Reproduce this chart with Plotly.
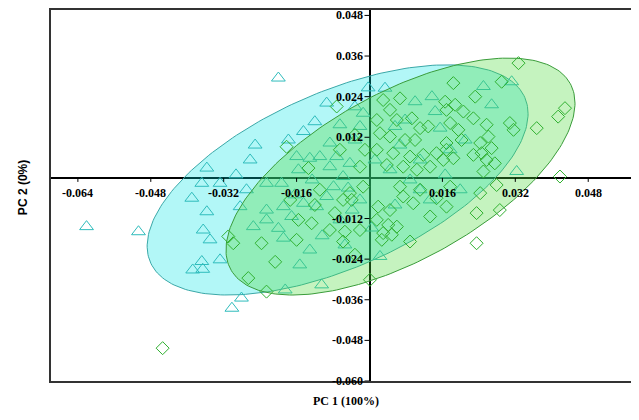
import numpy as np
import plotly.graph_objects as go

# ---- data (PC scores) ----
tri_x = [-0.0621, -0.0507, -0.0200, -0.0390, -0.0357, -0.0365, -0.0350, -0.0368, -0.0388, -0.0366,
         -0.0328, -0.0302, -0.0281, -0.0368, -0.0357, -0.0328, -0.0094, -0.0251, -0.0185, -0.0105,
         -0.0145, -0.0120, -0.0178, -0.0160, -0.0131, -0.0109, -0.0226, -0.0270, -0.0193, -0.0156,
         -0.0226, -0.0255, -0.0284, -0.0189, -0.0200, -0.0189, -0.0226, -0.0171, -0.0145, -0.0116,
         -0.0087, -0.0072, -0.0058, -0.0079, -0.0094, -0.0043, -0.0021, -0.0014, -0.0087, 0.0250,
         0.0312, 0.0268, 0.0137, 0.0100, 0.0144, 0.0034, 0.0056, 0.0155, 0.0323, 0.0023,
         0.0111, 0.0089, 0.0177, -0.0038, -0.0065, -0.0021, 0.0012, 0.0045, 0.0067, 0.0111,
         0.0166, 0.0199, 0.0133, 0.0056, 0.0005, -0.0054, -0.0131, -0.0153, -0.0032, -0.0065,
         -0.0047, -0.0262, -0.0293, -0.0126, -0.0164, -0.0104, 0.0078, 0.0210, -0.0003, -0.0032]
tri_y = [-0.0144, -0.0159, 0.0295, -0.0060, -0.0100, -0.0154, -0.0183, -0.0247, -0.0272, -0.0270,
         -0.0242, -0.0385, -0.0355, -0.0016, 0.0029, -0.0016, 0.0221, 0.0097, -0.0331, -0.0316,
         0.0137, 0.0166, 0.0112, 0.0063, 0.0058, 0.0063, -0.0016, -0.0035, -0.0016, 0.0024,
         -0.0095, -0.0144, -0.0085, -0.0085, -0.0149, -0.0178, -0.0124, -0.0114, -0.0075, -0.0085,
         0.0033, 0.0063, 0.0004, -0.0026, -0.0055, 0.0043, 0.0152, 0.0191, 0.0103, 0.0270,
         0.0284, 0.0216, 0.0240, 0.0225, 0.0196, 0.0265, 0.0152, 0.0147, 0.0019, -0.0232,
         -0.0035, -0.0006, 0.0083, -0.0095, -0.0124, -0.0065, 0.0053, 0.0024, 0.0097, 0.0053,
         0.0009, -0.0035, -0.0065, -0.0080, -0.0148, -0.0198, -0.0213, -0.0257, 0.0112, 0.0157,
         -0.0030, 0.0053, 0.0009, -0.0006, -0.0050, -0.0171, 0.0171, 0.0112, 0.0266, 0.0210]

dia_x = [-0.0454, -0.0310, -0.0299, -0.0237, -0.0266, -0.0226, -0.0160, -0.0156, -0.0127, -0.0087,
         -0.0182, -0.0134, -0.0120, -0.0076, -0.0058, -0.0043, -0.0021, -0.0072, -0.0039, -0.0058,
         -0.0021, -0.0014, 0.0001, -0.0054, 0.0027, 0.0049, 0.0041, 0.0019, 0.0327, 0.0184,
         0.0290, 0.0232, 0.0166, 0.0188, 0.0169, 0.0206, 0.0228, 0.0257, 0.0308, 0.0316,
         0.0367, 0.0414, 0.0429, 0.0030, 0.0067, 0.0093, 0.0045, 0.0016, 0.0060, 0.0111,
         0.0129, 0.0177, 0.0195, 0.0169, 0.0202, 0.0243, 0.0261, 0.0268, 0.0246, 0.0228,
         0.0257, 0.0275, 0.0250, 0.0169, 0.0147, 0.0162, 0.0184, 0.0118, 0.0089, 0.0078,
         0.0100, 0.0045, 0.0023, 0.0016, 0.0052, 0.0038, 0.0074, 0.0104, 0.0133, 0.0418,
         0.0279, 0.0243, 0.0286, 0.0235, 0.0235, 0.0169, 0.0133, 0.0147, 0.0177, 0.0096,
         0.0074, 0.0045, 0.0060, 0.0030, 0.0089, 0.0016, 0.0111, 0.0067, -0.0109, -0.0174,
         -0.0207, -0.0032, -0.0010, -0.0032, -0.0065]
dia_y = [-0.0503, -0.0173, -0.0193, -0.0193, -0.0296, -0.0336, -0.0183, -0.0124, -0.0134, -0.0154,
         0.0092, 0.0029, -0.0080, -0.0104, -0.0065, -0.0045, 0.0033, 0.0211, -0.0065, -0.0188,
         -0.0154, -0.0026, -0.0301, -0.0159, -0.0183, -0.0168, -0.0139, -0.0085, 0.0339, 0.0280,
         0.0284, 0.0240, 0.0225, 0.0216, 0.0201, 0.0196, 0.0176, 0.0157, 0.0162, 0.0142,
         0.0147, 0.0181, 0.0206, 0.0230, 0.0235, 0.0176, 0.0201, 0.0171, 0.0171, 0.0147,
         0.0152, 0.0162, 0.0142, 0.0103, 0.0112, 0.0103, 0.0122, 0.0088, 0.0073, 0.0068,
         0.0053, 0.0043, 0.0019, 0.0083, 0.0073, 0.0053, 0.0058, 0.0068, 0.0063, 0.0112,
         0.0112, 0.0122, 0.0132, 0.0083, 0.0073, 0.0038, 0.0033, 0.0024, 0.0033, 0.0004,
         -0.0021, -0.0045, -0.0095, -0.0104, -0.0193, -0.0085, -0.0114, -0.0060, -0.0026, -0.0075,
         -0.0055, -0.0095, -0.0144, -0.0163, -0.0188, -0.0124, -0.0035, -0.0026, -0.0035, -0.0065,
         -0.0248, -0.0227, 0.0083, 0.0127, 0.0083]

# confidence ellipses: centre, half-extent in x, half-extent in y, covariance term
cyan_ell = (-0.0070, -0.0006, 0.0418, 0.0340, 0.000817)
green_ell = (0.0068, 0.0004, 0.0383, 0.0350, 0.00083)

x_ticks = [-0.064, -0.048, -0.032, -0.016, 0.016, 0.032, 0.048]
x_tick_labels = ["-0.064", "-0.048", "-0.032", "-0.016", "0.016", "0.032", "0.048"]
y_ticks = [0.048, 0.036, 0.024, 0.012, -0.012, -0.024, -0.036, -0.048, -0.060]
y_tick_labels = ["0.048", "0.036", "0.024", "0.012", "-0.012", "-0.024", "-0.036", "-0.048", "-0.060"]


def ellipse(cx, cy, hw, hh, sxy, n=240):
    t = np.linspace(0, 2 * np.pi, n)
    l21 = sxy / hw
    l22 = np.sqrt(hh ** 2 - l21 ** 2)
    return cx + hw * np.cos(t), cy + l21 * np.cos(t) + l22 * np.sin(t)


fig = go.Figure()
ex, ey = ellipse(*cyan_ell)
fig.add_trace(go.Scatter(x=ex, y=ey, mode="lines", fill="toself",
                         fillcolor="rgba(0,228,228,0.30)",
                         line=dict(color="#3aa8a8", width=1), hoverinfo="skip"))
fig.add_trace(go.Scatter(x=tri_x, y=tri_y, mode="markers",
                         marker=dict(symbol="triangle-up-open", size=12, color="#2fbcbc",
                                     line=dict(width=1, color="#2fbcbc"))))
ex, ey = ellipse(*green_ell)
fig.add_trace(go.Scatter(x=ex, y=ey, mode="lines", fill="toself",
                         fillcolor="rgba(80,220,60,0.33)",
                         line=dict(color="#3a9c3a", width=1), hoverinfo="skip"))
fig.add_trace(go.Scatter(x=dia_x, y=dia_y, mode="markers",
                         marker=dict(symbol="diamond-open", size=10, color="#2fb02f",
                                     line=dict(width=1, color="#2fb02f"))))

shapes = []
annotations = []
tick_font = dict(family="Liberation Serif, Times New Roman, serif", size=12, color="black")
for v, lab in zip(x_ticks, x_tick_labels):
    shapes.append(dict(type="line", xref="x", yref="y", x0=v, x1=v,
                       ysizemode="pixel", yanchor=0, y0=0, y1=-4,
                       line=dict(color="black", width=1)))
    annotations.append(dict(x=v, y=0, xref="x", yref="y", text="<b>%s</b>" % lab,
                            showarrow=False, yshift=-15, font=tick_font))
for v, lab in zip(y_ticks, y_tick_labels):
    shapes.append(dict(type="line", xref="x", yref="y", y0=v, y1=v,
                       xsizemode="pixel", xanchor=0, x0=-5, x1=0,
                       line=dict(color="black", width=1)))
    annotations.append(dict(x=0, y=v, xref="x", yref="y", text="<b>%s</b>" % lab,
                            showarrow=False, xanchor="right", xshift=-5, font=tick_font))

annotations.append(dict(x=0.495, y=-0.078, xref="paper", yref="paper",
                        text="<b>PC 1 (100%)</b>", showarrow=False,
                        font=dict(family="Liberation Serif, Times New Roman, serif", size=12, color="black")))
annotations.append(dict(x=-0.062, y=0.52, xref="paper", yref="paper",
                        text="<b>PC 2 (0%)</b>", showarrow=False, textangle=-90,
                        font=dict(family="Liberation Sans, Arial, sans-serif", size=12, color="black")))

fig.update_layout(
    width=639, height=412,
    margin=dict(l=43, r=0, t=2, b=39),
    paper_bgcolor="white", plot_bgcolor="white",
    showlegend=False,
    shapes=shapes, annotations=annotations,
    xaxis=dict(range=[-0.0699, 0.0609], showgrid=False, showticklabels=False, ticks="",
               zeroline=True, zerolinecolor="black", zerolinewidth=1.5,
               showline=True, linecolor="#333333", linewidth=2, mirror=True),
    yaxis=dict(range=[-0.0600, 0.0496], showgrid=False, showticklabels=False, ticks="",
               zeroline=True, zerolinecolor="black", zerolinewidth=2,
               showline=True, linecolor="#333333", linewidth=2, mirror=False),
)

fig.write_html("out.html")
